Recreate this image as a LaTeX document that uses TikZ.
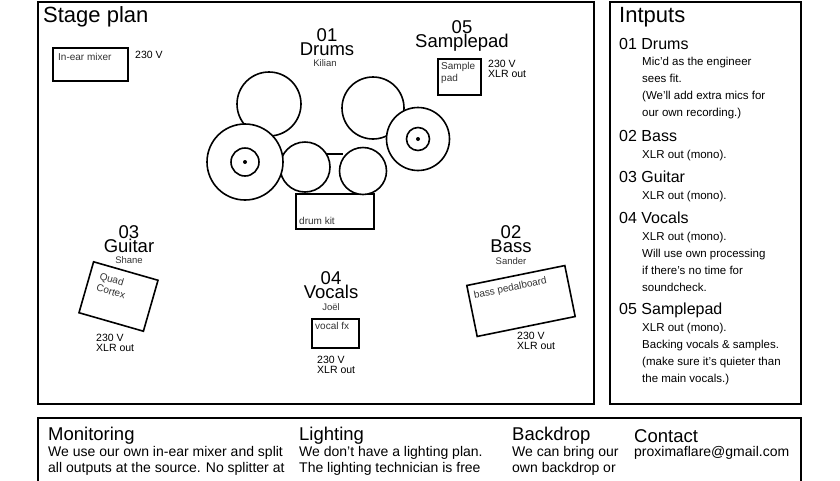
\documentclass[tikz,border=0pt]{standalone}
\usepackage{fontspec}
\setmainfont{Liberation Sans}
\begin{document}
\begin{tikzpicture}[x=1pt,y=-1pt,
  panel/.style={draw,line width=2pt},
  box/.style={draw,line width=1.6pt,fill=white},
  drum/.style={draw,line width=1.6pt,fill=white},
  big/.style={font=\fontsize{18.5}{14}\selectfont,inner sep=0pt,align=center,anchor=center},
  pname/.style={font=\fontsize{9.5}{10}\selectfont,inner sep=0pt,text=black!80},
  tiny/.style={font=\fontsize{10}{12}\selectfont,inner sep=0pt,text=black!80,align=left},
  pw/.style={font=\fontsize{10.5}{10}\selectfont,inner sep=0pt,align=left},
  ptitle/.style={font=\fontsize{22}{22}\selectfont,inner sep=0pt,anchor=west},
  ihead/.style={font=\fontsize{16}{16}\selectfont,inner sep=0pt,anchor=west},
  ibody/.style={font=\fontsize{11.5}{17}\selectfont,inner sep=0pt,anchor=north west,align=left},
  bhead/.style={font=\fontsize{18.5}{18}\selectfont,inner sep=0pt,anchor=west},
  bbody/.style={font=\fontsize{14}{16.5}\selectfont,inner sep=0pt,anchor=north west,align=left}]
\useasboundingbox (0,0) rectangle (840,480);
\fill[white] (0,0) rectangle (840,480);
% panels
\draw[panel] (38,2) rectangle (594,404);
\draw[panel] (610,2) rectangle (801,404);
\draw[panel] (38,418) rectangle (801,490);
\node[ptitle] (stt) at (43,17) {Stage plan};
% in-ear mixer
\node[box,minimum width=75pt,minimum height=33pt,anchor=north west] (iem) at (52,47) {};
\node[tiny,anchor=north west] (iemt) at (58,53) {In-ear mixer};
\node[pw,anchor=north west] (iemp) at (135,51) {230 V};
% drums
\node[big] (dn) at (327,42) {01\\Drums};
\node[pname] (dk) at (325,63) {Kilian};
\node[drum,circle,minimum size=64pt] (c1) at (269,104) {};
\node[drum,circle,minimum size=62pt] (c2) at (373,108) {};
\draw[line width=1.6pt] (327,154) -- (343,154);
\node[box,minimum width=78pt,minimum height=35pt,anchor=north west] (kit) at (295,193) {};
\node[tiny,anchor=south west] (kitt) at (299,225) {drum kit};
\node[drum,circle,minimum size=50pt] (t1) at (305,167) {};
\node[drum,circle,minimum size=47pt] (t2) at (363,171) {};
\node[drum,circle,minimum size=76pt] (hh) at (245,162) {};
\node[drum,circle,minimum size=28pt] (hhi) at (245,162) {};
\fill (245,162) circle (2pt);
\node[drum,circle,minimum size=63pt] (cy) at (418,139) {};
\node[drum,circle,minimum size=23pt] (cyi) at (418,139) {};
\fill (418,139) circle (2pt);
% samplepad
\node[big] (sn) at (462,36) {05\\Samplepad};
\node[box,minimum width=43pt,minimum height=36pt,anchor=north west] (sp) at (437,58) {};
\node[tiny,anchor=north west] (spt) at (441,62) {Sample\\pad};
\node[pw,anchor=north west] (spp) at (488,60) {230 V\\XLR out};
% guitar
\node[big] (gn) at (129,239) {03\\Guitar};
\node[pname] (gs) at (129,260) {Shane};
\node[box,minimum width=67pt,minimum height=53pt,rotate=-16] (qc) at (118.5,296.5) {};
\node[tiny,rotate=-16,anchor=north west] (qct) at (101,272) {Quad\\Cortex};
\node[pw,anchor=north west] (gp) at (96,334) {230 V\\XLR out};
% vocals
\node[big] (vn) at (331,285) {04\\Vocals};
\node[pname] (vj) at (331,307) {Joël};
\node[box,minimum width=47pt,minimum height=29pt,anchor=north west] (vfx) at (311,318) {};
\node[tiny,anchor=north west] (vfxt) at (315,322) {vocal fx};
\node[pw,anchor=north west] (vp) at (317,356) {230 V\\XLR out};
% bass
\node[big] (bn) at (511,239) {02\\Bass};
\node[pname] (bs) at (511,261) {Sander};
\node[box,minimum width=100pt,minimum height=52pt,rotate=11.5] (bp) at (521,301) {};
\node[tiny,rotate=11.5,anchor=north west] (bpt) at (473,291) {bass pedalboard};
\node[pw,anchor=north west] (bpp) at (517,332) {230 V\\XLR out};
% inputs
\node[ptitle] (it) at (619,17) {Intputs};
\node[ihead] (i1) at (619,44) {01 Drums};
\node[ibody] (i1b) at (642,57) {Mic'd as the engineer\\sees fit.\\(We'll add extra mics for\\our own recording.)};
\node[ihead] (i2) at (619,136) {02 Bass};
\node[ibody] (i2b) at (642,150) {XLR out (mono).};
\node[ihead] (i3) at (619,177) {03 Guitar};
\node[ibody] (i3b) at (642,191) {XLR out (mono).};
\node[ihead] (i4) at (619,218) {04 Vocals};
\node[ibody] (i4b) at (642,232) {XLR out (mono).\\Will use own processing\\if there's no time for\\soundcheck.};
\node[ihead] (i5) at (619,310) {05 Samplepad};
\node[ibody] (i5b) at (642,323) {XLR out (mono).\\Backing vocals \& samples.\\(make sure it's quieter than\\the main vocals.)};
% bottom
\node[bhead] (mh) at (48,436) {Monitoring};
\node[bbody] (mb) at (48,446) {We use our own in-ear mixer and split\\all outputs at the source. No splitter at};
\node[bhead] (lh) at (299,436) {Lighting};
\node[bbody] (lb) at (299,446) {We don’t have a lighting plan.\\The lighting technician is free};
\node[bhead] (bh) at (512,436) {Backdrop};
\node[bbody] (bb) at (512,446) {We can bring our\\own backdrop or};
\node[bhead] (ch) at (634,436) {Contact};
\node[bbody] (cb) at (634,446) {proximaflare@gmail.com};
\end{tikzpicture}
\end{document}
